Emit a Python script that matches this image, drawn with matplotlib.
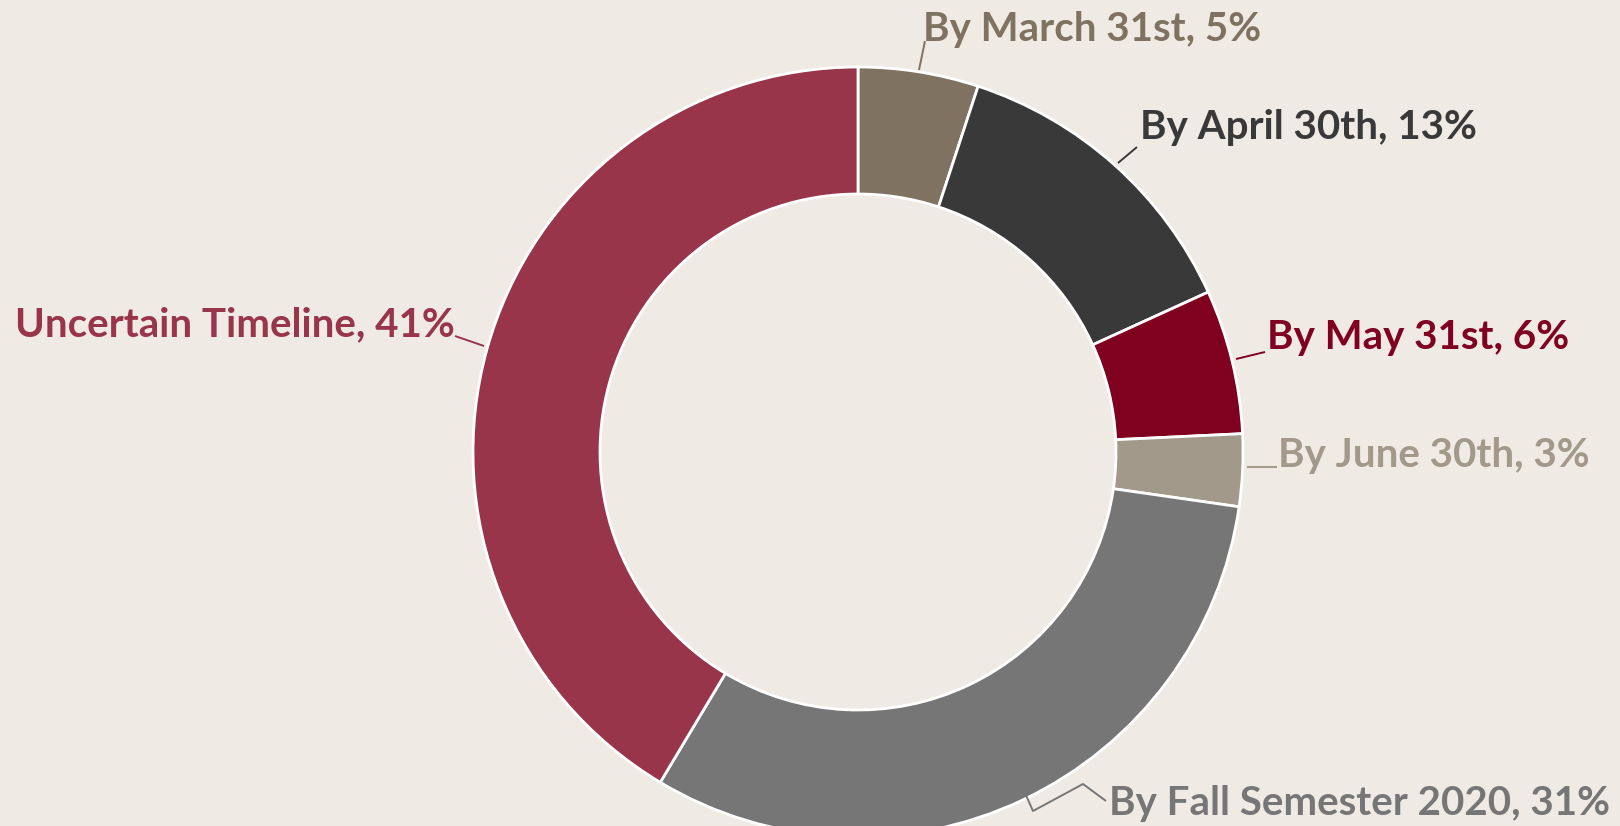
"""
Donut chart: expected timeline for return, by share of respondents.
"""

import matplotlib.pyplot as plt

labels = [
    "By March 31st",
    "By April 30th",
    "By May 31st",
    "By June 30th",
    "By Fall Semester 2020",
    "Uncertain Timeline",
]
shares = [5, 13, 6, 3, 31, 41]
colors = ["#7f7260", "#393939", "#800020", "#a3998a", "#767676", "#98354a"]

W, H = 1620, 826
CX, CY, R = 858, 452, 385
BG = "#efebe4"


def px(x, y):
    # pixel position -> data coordinates (pie centred at 0,0 with radius 1)
    return (x - CX) / R, (CY - y) / R


def main() -> None:
    fig = plt.figure(figsize=(W / 100, H / 100), dpi=100, facecolor=BG)
    ax = fig.add_axes([0, 0, 1, 1])
    ax.set_facecolor(BG)

    ax.pie(
        shares,
        colors=colors,
        startangle=90,
        counterclock=False,
        radius=1,
        wedgeprops=dict(width=1 - 258 / R, edgecolor="white", linewidth=2),
    )

    ax.set_xlim(-CX / R, (W - CX) / R)
    ax.set_ylim(-(H - CY) / R, CY / R)
    ax.set_aspect("auto")
    ax.axis("off")

    # label anchor (pixels), alignment, leader polyline (pixels)
    layout = [
        ((923, 29), "left", [(919, 70), (925, 41)]),
        ((1140, 128), "left", [(1118, 163), (1137, 147)]),
        ((1267, 337), "left", [(1236, 359), (1265, 352)]),
        ((1278, 455), "left", [(1247, 467), (1277, 467)]),
        ((1109, 804), "left", [(1025, 793), (1033, 811), (1083, 784), (1106, 801)]),
        ((455, 325), "right", [(455, 336), (484, 346)]),
    ]

    for lab, val, col, (pos, ha, line) in zip(labels, shares, colors, layout):
        xs, ys = zip(*[px(*p) for p in line])
        ax.plot(xs, ys, color=col, lw=1.4, solid_capstyle="butt")
        ax.text(
            *px(*pos),
            f"{lab}, {val}%",
            color=col,
            ha=ha,
            va="center",
            fontsize=29,
            fontweight="bold",
            family=["Lato", "DejaVu Sans"],
        )

    fig.savefig("out.png", dpi=100, facecolor=BG)


if __name__ == "__main__":
    main()
